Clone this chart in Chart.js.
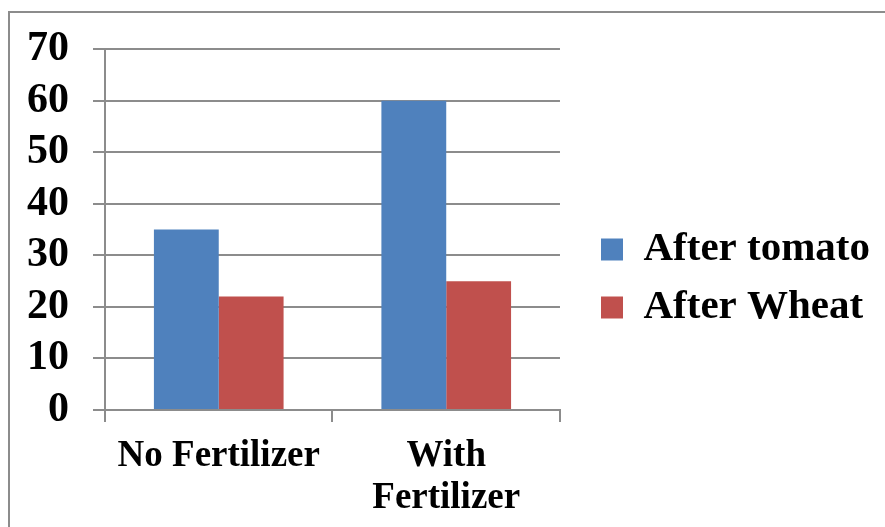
<!DOCTYPE html>
<html lang="en">
<head>
  <meta charset="UTF-8" />
  <title>After tomato vs After Wheat</title>
  <script src="https://cdn.jsdelivr.net/npm/chart.js"></script>
  <style>
    html, body {
      margin: 0;
      padding: 0;
      background: #ffffff;
      overflow: hidden;
    }
    .wrap {
      position: relative;
      width: 885px;
      height: 527px;
    }
    /* outer frame, runs off the right and bottom edges */
    .frame {
      position: absolute;
      left: 8px;
      top: 11px;
      width: 900px;
      height: 600px;
      border: 2px solid #8c8c8c;
      box-sizing: border-box;
    }
    canvas {
      position: absolute;
      left: 0;
      top: 0;
    }
  </style>
</head>
<body>
  <div class="wrap">
    <div class="frame"></div>
    <canvas id="chart" width="885" height="527"></canvas>
  </div>

  <script>
    const categories = ["No Fertilizer", ["With", "Fertilizer"]];
    const afterTomato = [35, 60];
    const afterWheat = [22, 25];
    const yMin = 0;
    const yMax = 70;
    const yStep = 10;

    const blue = '#4f81bd';
    const red = '#c0504d';
    const gridGray = '#8c8c8c';
    const serif = "'Liberation Serif', 'Times New Roman', serif";

    new Chart(document.getElementById("chart"), {
      type: "bar",
      data: {
        labels: categories,
        datasets: [
          {
            label: "After tomato",
            data: afterTomato,
            backgroundColor: blue,
            barPercentage: 1.0,
            categoryPercentage: 0.57,
          },
          {
            label: "After Wheat",
            data: afterWheat,
            backgroundColor: red,
            barPercentage: 1.0,
            categoryPercentage: 0.57,
          },
        ],
      },
      options: {
        responsive: false,
        animation: false,
        devicePixelRatio: 1,
        layout: {
          padding: { left: 0, top: 30, right: 5, bottom: 0 },
        },
        plugins: {
          legend: {
            position: "right",
            maxWidth: 420,
            labels: {
              color: '#000',
              boxWidth: 22,
              boxHeight: 22,
              padding: 17,
              font: { family: serif, size: 41, weight: 'bold' },
            },
          },
          tooltip: { enabled: false },
        },
        scales: {
          x: {
            afterFit: (axis) => { axis.height = 117; },
            grid: {
              display: true,
              drawOnChartArea: false,
              drawTicks: true,
              tickLength: 12,
              color: gridGray,
              lineWidth: 2,
            },
            border: { color: gridGray, width: 2 },
            ticks: {
              color: '#000',
              padding: 14,
              maxRotation: 0,
              autoSkip: false,
              font: { family: serif, size: 37, weight: 'bold', lineHeight: 1.12 },
            },
          },
          y: {
            min: yMin,
            max: yMax,
            afterFit: (axis) => { axis.width = 105; },
            grid: {
              color: gridGray,
              lineWidth: 2,
              tickLength: 12,
            },
            border: { color: gridGray, width: 2 },
            ticks: {
              color: '#000',
              padding: 24,
              stepSize: yStep,
              autoSkip: false,
              font: { family: serif, size: 42, weight: 'bold' },
            },
          },
          // empty spacer between plot and legend
          gap: {
            type: 'linear',
            position: 'right',
            afterFit: (axis) => { axis.width = 24; },
            grid: { display: false },
            border: { display: false },
            ticks: { display: false },
          },
        },
      },
    });
  </script>
</body>
</html>
